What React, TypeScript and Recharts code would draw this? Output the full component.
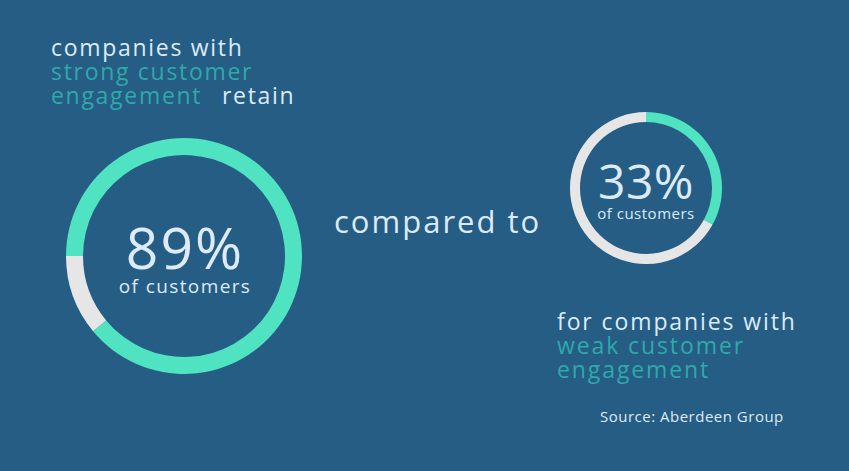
import { PieChart, Pie, Cell } from "recharts";

const strongLabels = ["retained", "lost"];
const strongValues = [89, 11];
const weakLabels = ["retained", "lost"];
const weakValues = [33, 67];
const sliceColors = ["#4fe3c1", "#e6e6e6"];

const strongData = strongLabels.map((name, i) => ({ name, value: strongValues[i] }));
const weakData = weakLabels.map((name, i) => ({ name, value: weakValues[i] }));

const W = 849;
const H = 471;
const BG = "#255d84";
const LIGHT = "#dcebf7";
const TEAL = "#2fa9ab";
const FONT = "'Open Sans', sans-serif";

export default function App() {
  return (
    <div style={{ position: "absolute", left: 0, top: 0, width: W, height: H, background: BG, overflow: "hidden" }}>
      <PieChart width={W} height={H} margin={{ top: 0, right: 0, bottom: 0, left: 0 }}>
        <Pie
          data={strongData}
          dataKey="value"
          cx={184}
          cy={256}
          innerRadius={101}
          outerRadius={118}
          startAngle={180}
          endAngle={-180}
          stroke="none"
          isAnimationActive={false}
        >
          {strongData.map((d, i) => (
            <Cell key={d.name} fill={sliceColors[i]} />
          ))}
        </Pie>
        <Pie
          data={weakData}
          dataKey="value"
          cx={646}
          cy={188}
          innerRadius={66}
          outerRadius={76}
          startAngle={90}
          endAngle={-270}
          stroke="none"
          isAnimationActive={false}
        >
          {weakData.map((d, i) => (
            <Cell key={d.name} fill={sliceColors[i]} />
          ))}
        </Pie>
      </PieChart>
      <svg width={W} height={H} style={{ position: "absolute", left: 0, top: 0, pointerEvents: "none" }} fontFamily={FONT}>
        <g fontSize={23} letterSpacing={1.7}>
          <text x={51} y={56} fill={LIGHT}>companies with</text>
          <text x={51} y={80} fill={TEAL}>strong customer</text>
          <text x={51} y={104} fill={TEAL}>engagement</text>
          <text x={222} y={104} fill={LIGHT}>retain</text>
        </g>

        <text x={185} y={269} fontSize={57} letterSpacing={2} fill={LIGHT} textAnchor="middle">89%</text>
        <text x={185} y={293} fontSize={19} letterSpacing={1.4} fill={LIGHT} textAnchor="middle">of customers</text>

        <text x={334} y={233} fontSize={31} letterSpacing={2} fill={LIGHT}>compared to</text>

        <text x={646} y={199} fontSize={48} letterSpacing={0.5} fill={LIGHT} textAnchor="middle">33%</text>
        <text x={646} y={219} fontSize={15} letterSpacing={0.5} fill={LIGHT} textAnchor="middle">of customers</text>

        <g fontSize={23} letterSpacing={1.9}>
          <text x={557} y={330} fill={LIGHT}>for companies with</text>
          <text x={557} y={354} fill={TEAL}>weak customer</text>
          <text x={557} y={378} fill={TEAL}>engagement</text>
        </g>

        <text x={600} y={422} fontSize={15} letterSpacing={0.5} fill={LIGHT}>Source: Aberdeen Group</text>
      </svg>
    </div>
  );
}
